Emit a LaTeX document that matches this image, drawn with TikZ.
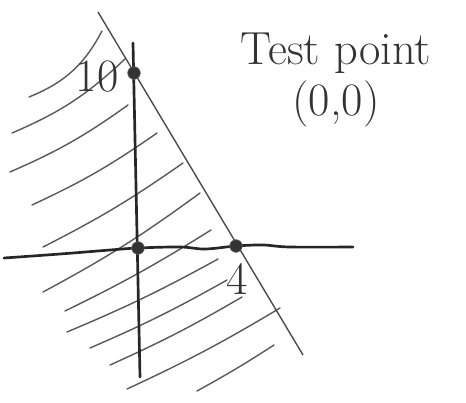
\documentclass[tikz,border=0pt]{standalone}
\usepackage{tikz}
\usetikzlibrary{calc}

\begin{document}
\begin{tikzpicture}[x=0.025cm,y=-0.025cm,
  axisline/.style={black!85,line width=1.9pt,line cap=round},
  boundary/.style={black!70,line width=1pt},
  hatch/.style={black!65,line width=1pt,line cap=round},
  dotpt/.style={circle,fill=black!80,draw=black!60,line width=0.4pt,inner sep=0pt,minimum size=9pt},
  hand/.style={black!80,inner sep=0pt,font=\fontsize{33}{36}\selectfont}]
  \useasboundingbox (0,0) rectangle (466,402);
  \coordinate (yax) at (134,73);
  \coordinate (o) at (138,248);
  \coordinate (xax) at (236,246);
  \coordinate (ytop) at (133,43);
  \coordinate (ybot) at (140,377);
  \coordinate (xleft) at (4,258);
  \coordinate (xright) at (353,247);
  \coordinate (btop) at (98,12);
  \coordinate (bbot) at (303,355);
  \foreach \a/\b/\c/\d/\k in {29/97/102/31/20, 12/133/125/59/10, 10/172/128/105/6, 32/205/157/133/5,
      43/247/183/163/4, 43/292/200/193/4, 65/311/211/230/3, 67/332/218/259/3,
      90/348/227/280/3, 110/365/242/297/3, 127/389/280/308/3, 197/391/274/345/2}
    \draw[hatch] (\a,\b) to[bend right=\k] (\c,\d);
  \draw[boundary] (btop) -- (bbot);
  \draw[axisline] (ytop) -- (ybot);
  \draw[axisline] plot[smooth,tension=0.6] coordinates {(xleft) (60,254) (110,250) (o) (180,247) (205,249) (xax) (263,245) (290,247) (xright)};
  \node[dotpt] (yint) at (yax) {};
  \node[dotpt] (orig) at (o) {};
  \node[dotpt] (xint) at (xax) {};
  \node[hand] (ten) at (97,77) {10};
  \node[hand] (four) at (237,279) {4};
  \node[hand,align=center] (test) at (336,80) {Test point\\(0,0)};
\end{tikzpicture}
\end{document}
